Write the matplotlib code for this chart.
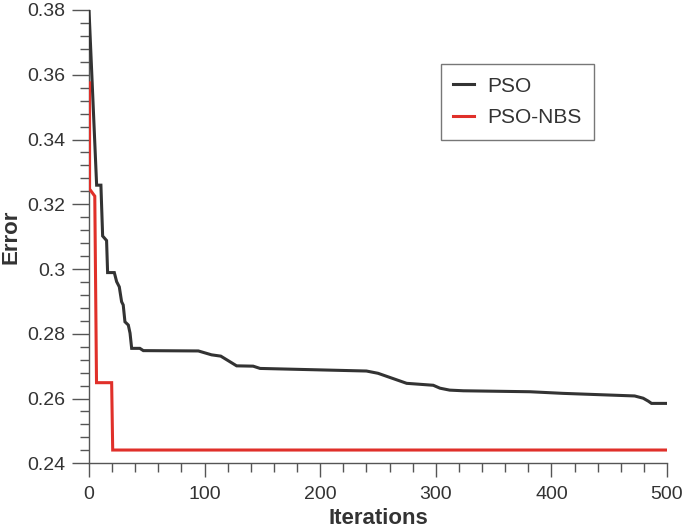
import matplotlib
matplotlib.use("Agg")
import matplotlib.pyplot as plt
from matplotlib.ticker import MultipleLocator

plt.rcParams['font.family'] = ['Liberation Sans', 'DejaVu Sans']

# PSO (black) curve: iterations and error values
pso_iter = [0, 6.6, 10.3, 11.8, 15.2, 16.1, 21.9, 23.9, 26.2, 28.2, 29.6, 31.1,
            34, 35.5, 36.9, 44, 47, 94.6, 106, 114, 127.7, 142, 148, 240, 250,
            274.8, 297.8, 303.6, 312, 323.8, 381.5, 410, 472, 479.4, 483.8,
            486.6, 500]
pso_err = [0.380, 0.3259, 0.3259, 0.3102, 0.3088, 0.2989, 0.2989, 0.2961,
           0.2945, 0.2899, 0.2889, 0.2837, 0.2827, 0.2802, 0.2755, 0.2755,
           0.2748, 0.2747, 0.2735, 0.2731, 0.2701, 0.2700, 0.2693, 0.2685,
           0.2678, 0.2647, 0.2641, 0.2632, 0.2626, 0.2624, 0.2621, 0.2616,
           0.2608, 0.2601, 0.2592, 0.2585, 0.2585]

# PSO-NBS (red) curve
nbs_iter = [0.5, 0.5, 5, 6.5, 19.6, 20.5, 500]
nbs_err = [0.3575, 0.3247, 0.3225, 0.2649, 0.2649, 0.2441, 0.2441]

labels = ["PSO", "PSO-NBS"]
x_ticks = [0, 100, 200, 300, 400, 500]
y_ticks = [0.24, 0.26, 0.28, 0.30, 0.32, 0.34, 0.36, 0.38]
y_tick_labels = ["0.24", "0.26", "0.28", "0.3", "0.32", "0.34", "0.36", "0.38"]

fig = plt.figure(figsize=(6.85, 5.29), dpi=100)
ax = fig.add_axes([89/685, 1 - 463.3/529, (667 - 89)/685, (463.3 - 10)/529])

ax.plot(pso_iter, pso_err, color="#333333", lw=2.2, label=labels[0],
        solid_joinstyle="miter", zorder=3)
ax.plot(nbs_iter, nbs_err, color="#e0302a", lw=2.2, label=labels[1],
        solid_joinstyle="miter", zorder=3)

ax.set_xlim(0, 500)
ax.set_ylim(0.24, 0.38)
ax.set_xticks(x_ticks)
ax.set_yticks(y_ticks)
ax.set_yticklabels(y_tick_labels)
ax.xaxis.set_minor_locator(MultipleLocator(20))
ax.yaxis.set_minor_locator(MultipleLocator(0.004))

for s in ["top", "right"]:
    ax.spines[s].set_visible(False)
for s in ["left", "bottom"]:
    ax.spines[s].set_color("#555555")
    ax.spines[s].set_linewidth(1.0)

ax.tick_params(axis="y", which="major", direction="out", length=12, width=1.0,
               color="#555555", labelsize=14, labelcolor="#333333", pad=5)
ax.tick_params(axis="y", which="minor", direction="out", length=6.5, width=1.0,
               color="#555555")
ax.tick_params(axis="x", which="major", direction="out", length=10, width=1.0,
               color="#555555", labelsize=14, labelcolor="#333333", pad=6)
ax.tick_params(axis="x", which="minor", direction="out", length=6.5, width=1.0,
               color="#555555")

ax.set_xlabel("Iterations", fontsize=16, fontweight="bold", color="#333333",
              labelpad=4)
ax.set_ylabel("Error", fontsize=16, fontweight="bold", color="#333333",
              labelpad=4)

leg = ax.legend(loc="upper left", bbox_to_anchor=((440.7 - 89)/578, 1 - (64 - 10)/453.3),
                fontsize=15, frameon=True, fancybox=False, handlelength=1.0,
                handletextpad=0.65, borderpad=0.6, labelspacing=0.6,
                borderaxespad=0)
leg.get_frame().set_edgecolor("#555555")
leg.get_frame().set_linewidth(1.0)
for t in leg.get_texts():
    t.set_color("#333333")

fig.savefig("out.png", dpi=100)
